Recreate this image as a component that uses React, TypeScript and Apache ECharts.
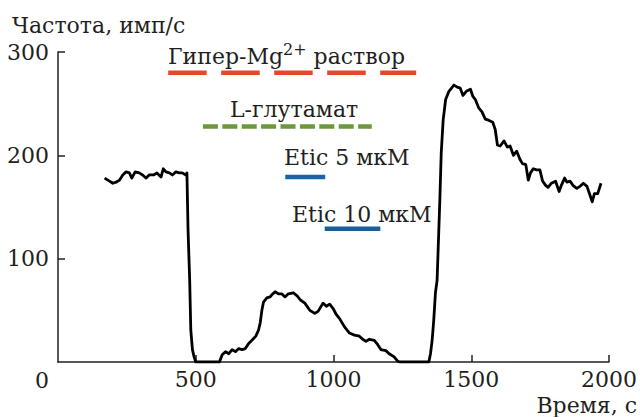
import React, { useEffect, useRef } from "react";
import * as echarts from "echarts";

// Trace: time (s) and firing rate (imp/s)
const traceTime = [
  169, 187, 199, 211, 223, 235, 247, 259, 268, 280, 295, 307, 320, 331, 347, 359, 374, 382, 392, 404,
  415, 428, 440, 451, 464, 468, 472, 478, 482, 488, 494, 500, 586, 596, 608, 620, 632, 644, 656, 668,
  680, 692, 704, 718, 728, 734, 740, 746, 758, 770, 776, 788, 800, 812, 824, 836, 854, 868, 880, 896,
  914, 932, 944, 962, 974, 986, 998, 1010, 1022, 1040, 1058, 1076, 1094, 1106, 1118, 1130, 1148, 1160, 1172, 1190,
  1202, 1220, 1232, 1240, 1346, 1352, 1358, 1364, 1370, 1376, 1386, 1391, 1398, 1407, 1419, 1437, 1449, 1460, 1470, 1482,
  1497, 1506, 1515, 1521, 1527, 1539, 1551, 1563, 1578, 1587, 1595, 1605, 1619, 1631, 1641, 1653, 1665, 1677, 1686, 1698,
  1707, 1715, 1725, 1737, 1749, 1759, 1770, 1779, 1791, 1806, 1819, 1827, 1839, 1847, 1859, 1869, 1883, 1895, 1907, 1920,
  1929, 1939, 1947, 1959, 1971,
];
const traceRate = [
  178, 175, 173, 174, 176, 181, 184, 183, 178, 184, 183, 181, 178, 181, 181, 183, 179, 187, 184, 183,
  181, 184, 183, 183, 181, 183, 128, 79, 31, 12, 5, 0, 0, 7, 10, 8, 12, 10, 13, 12,
  13, 18, 21, 25, 31, 38, 50, 58, 62, 63, 65, 68, 66, 66, 63, 66, 67, 64, 60, 57,
  50, 47, 49, 57, 54, 56, 52, 46, 42, 34, 28, 26, 25, 22, 20, 22, 21, 17, 12, 11,
  8, 5, 1, 0, 0, 8, 21, 41, 67, 79, 157, 202, 234, 254, 262, 268, 266, 265, 258, 262,
  264, 257, 254, 250, 246, 242, 235, 234, 232, 225, 210, 209, 214, 208, 209, 200, 204, 196, 192, 191,
  176, 183, 187, 186, 186, 175, 171, 169, 173, 175, 165, 171, 178, 174, 175, 171, 168, 170, 173, 170,
  163, 155, 163, 163, 173,
];

// Application intervals (time, s) and the level (imp/s) at which each bar is drawn
const mgInterval = [400, 1300];
const mgLevel = 280;
const gluInterval = [526, 1139];
const gluLevel = 228;
const etic5Interval = [825, 970];
const etic5Level = 179;
const etic10Interval = [968, 1170];
const etic10Level = 129;

const xTicks = [0, 500, 1000, 1500, 2000];
const yTicks = [0, 100, 200, 300];

const FONT = "DejaVu Serif";
const TXT = "#231F20";
const FS = 22;

export default function App() {
  const ref = useRef<HTMLDivElement>(null);
  useEffect(() => {
    document.body.style.margin = "0";
    if (!ref.current) return;
    const chart = echarts.init(ref.current, null, { renderer: "svg" });
    const seg = (iv: number[], lvl: number) => [
      [iv[0], lvl],
      [iv[1], lvl],
    ];
    const textEl = (text: string, x: number, y: number, align = "left") => ({
      type: "text",
      x,
      y,
      silent: true,
      style: {
        text,
        fontFamily: FONT,
        fontSize: FS,
        fill: TXT,
        align,
        verticalAlign: "middle",
      },
    });
    chart.setOption({
      animation: false,
      textStyle: { fontFamily: FONT },
      grid: { left: 58, right: 27, top: 52, bottom: 55 },
      xAxis: {
        type: "value",
        min: xTicks[0],
        max: xTicks[xTicks.length - 1],
        interval: 500,
        splitLine: { show: false },
        axisLine: { show: true, lineStyle: { color: TXT, width: 1.5 } },
        axisTick: { show: true, inside: true, length: 7, lineStyle: { color: TXT, width: 1.5 } },
        axisLabel: {
          showMinLabel: false,
          margin: 6,
          fontFamily: FONT,
          fontSize: FS,
          color: TXT,
          formatter: (v: number) => String(v),
        },
      },
      yAxis: {
        type: "value",
        min: yTicks[0],
        max: yTicks[yTicks.length - 1],
        interval: 100,
        splitLine: { show: false },
        axisLine: { show: true, lineStyle: { color: TXT, width: 1.5 } },
        axisTick: { show: true, inside: true, length: 7, lineStyle: { color: TXT, width: 1.5 } },
        axisLabel: {
          showMinLabel: false,
          margin: 9,
          fontFamily: FONT,
          fontSize: FS,
          color: TXT,
          formatter: (v: number) => String(v),
        },
      },
      series: [
        {
          type: "line",
          data: traceTime.map((t, i) => [t, traceRate[i]]),
          symbol: "none",
          silent: true,
          lineStyle: { color: "#000", width: 2.8, join: "round" },
        },
        {
          type: "line",
          data: seg(mgInterval, mgLevel),
          symbol: "none",
          silent: true,
          lineStyle: { color: "#E8462A", width: 4.5, type: [38.5, 14.5], cap: "butt" },
        },
        {
          type: "line",
          data: seg(gluInterval, gluLevel),
          symbol: "none",
          silent: true,
          lineStyle: { color: "#6E963C", width: 4.5, type: [15, 4.4], cap: "butt" },
        },
        {
          type: "line",
          data: seg(etic5Interval, etic5Level),
          symbol: "none",
          silent: true,
          lineStyle: { color: "#1A62A8", width: 4.5, cap: "butt" },
        },
        {
          type: "line",
          data: seg(etic10Interval, etic10Level),
          symbol: "none",
          silent: true,
          lineStyle: { color: "#175E9C", width: 4.5, cap: "butt" },
        },
      ],
      graphic: [
        textEl("Частота, имп/с", 12, 25),
        textEl("Время, с", 637, 405, "right"),
        textEl("0", 42, 380, "center"),
        {
          type: "text",
          x: 168,
          y: 54,
          silent: true,
          style: {
            text: "{a|Гипер-Mg}{b|2+}{a| раствор}",
            fontFamily: FONT,
            fontSize: FS,
            fill: TXT,
            align: "left",
            verticalAlign: "middle",
            rich: {
              a: { fontFamily: FONT, fontSize: FS, lineHeight: 26, fill: TXT, verticalAlign: "bottom" },
              b: { fontFamily: FONT, fontSize: 16, lineHeight: 16, fill: TXT, verticalAlign: "top" },
            },
          },
        },
        textEl("L-глутамат", 230, 109),
        textEl("Etic 5 мкМ", 284, 157),
        textEl("Etic 10 мкМ", 292, 214),
      ],
    });
    return () => chart.dispose();
  }, []);
  return <div ref={ref} style={{ width: 640, height: 417 }} />;
}
